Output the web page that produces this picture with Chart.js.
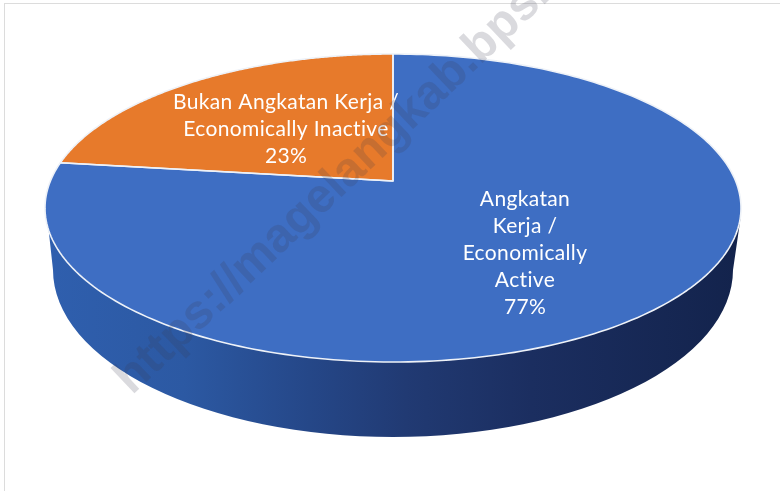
<!DOCTYPE html>
<html>
<head>
<meta charset="utf-8">
<title>Angkatan Kerja</title>
<script src="https://cdn.jsdelivr.net/npm/chart.js@4/dist/chart.umd.min.js"></script>
<style>
    html, body { margin: 0; padding: 0; background: #fff; }
    #wrap { position: relative; width: 780px; height: 491px; overflow: hidden; }
    #frame { position: absolute; left: 4px; top: 3px; width: 790px; height: 500px; border: 1px solid #dcdcdc; }
    #chart { position: absolute; left: 0; top: 0; }
</style>
</head>
<body>
<div id="wrap">
    <div id="frame"></div>
    <canvas id="chart" width="780" height="491"></canvas>
</div>
<script>
var categories = ["Angkatan Kerja / Economically Active", "Bukan Angkatan Kerja / Economically Inactive"];
var shares = [77, 23];
var sliceColors = ["#3e6ec3", "#e77a2b"];
var labelLines = [
    ["Angkatan", "Kerja /", "Economically", "Active"],
    ["Bukan Angkatan Kerja /", "Economically Inactive"]
];
var watermark = "https://magelangkab.bps.go.id";

// top face ellipse, and how far the pie centre is pushed back by the perspective
var face = { x: 393, y: 208, rx: 348, ry: 154, tilt: -0.175 };
var base = { x: 393, y: 270, rx: 340, ry: 167 };
var labelPos = [{ x: 525, y: 199 }, { x: 286, y: 102 }];
var labelStep = 27;

// unit circle angle -> point on the tilted face
function project(angle) {
    var u = Math.cos(angle);
    var v = Math.sin(angle);
    var t = face.tilt;
    var d = 1 + t * v;
    return {
        x: face.x + face.rx * u * Math.sqrt(1 - t * t) / d,
        y: face.y + face.ry * (v + t) / d
    };
}

function sliceFace(ctx, el) {
    var steps = 240;
    ctx.beginPath();
    ctx.moveTo(face.x, face.y + face.ry * face.tilt);
    for (var i = 0; i <= steps; i++) {
        var p = project(el.startAngle + (el.endAngle - el.startAngle) * i / steps);
        ctx.lineTo(p.x, p.y);
    }
    ctx.closePath();
}

function drawWall(ctx) {
    var wall = ctx.createLinearGradient(45, 0, 740, 0);
    wall.addColorStop(0, "#2f5fae");
    wall.addColorStop(0.2, "#2c59a3");
    wall.addColorStop(0.38, "#254788");
    wall.addColorStop(0.52, "#213a73");
    wall.addColorStop(0.7, "#1b2e60");
    wall.addColorStop(1, "#13234c");
    ctx.beginPath();
    ctx.moveTo(47, 215);
    ctx.lineTo(base.x - base.rx, base.y);
    ctx.ellipse(base.x, base.y, base.rx, base.ry, 0, Math.PI, 0, true);
    ctx.lineTo(741, 215);
    ctx.closePath();
    ctx.fillStyle = wall;
    ctx.fill();
}

var pie3d = {
    id: "pie3d",
    beforeDatasetDraw: function(chart, args) {
        var ctx = chart.ctx;
        ctx.save();
        drawWall(ctx);
        args.meta.data.forEach(function(el, i) {
            sliceFace(ctx, el);
            ctx.fillStyle = sliceColors[i];
            ctx.fill();
        });
        args.meta.data.forEach(function(el) {
            sliceFace(ctx, el);
            ctx.strokeStyle = "#eef2f8";
            ctx.lineWidth = 1.6;
            ctx.lineJoin = "round";
            ctx.stroke();
        });
        ctx.restore();
        return false;
    },
    afterDraw: function(chart) {
        var ctx = chart.ctx;
        ctx.save();
        ctx.fillStyle = "#fff";
        ctx.font = "21px Lato";
        ctx.letterSpacing = "0.35px";
        ctx.textAlign = "center";
        ctx.textBaseline = "middle";
        labelLines.forEach(function(lines, i) {
            var rows = lines.concat([shares[i] + "%"]);
            rows.forEach(function(row, j) {
                ctx.fillText(row, labelPos[i].x, labelPos[i].y + j * labelStep);
            });
        });
        ctx.restore();

        ctx.save();
        ctx.translate(123, 386);
        ctx.rotate(-43.5 * Math.PI / 180);
        ctx.font = "bold 48px 'Liberation Sans'";
        ctx.fillStyle = "rgba(60,60,80,0.19)";
        ctx.textBaseline = "middle";
        ctx.fillText(watermark, 0, 0);
        ctx.restore();
    }
};

var ctx = document.getElementById("chart").getContext("2d");
var chart = new Chart(ctx, {
    type: "pie",
    data: {
        labels: categories,
        datasets: [
            {
                data: shares,
                backgroundColor: sliceColors,
            }
        ],
    },
    options: {
        responsive: false,
        animation: false,
        plugins: {
            legend: { display: false },
            tooltip: { enabled: false },
        },
    },
    plugins: [pie3d],
});
</script>
</body>
</html>
